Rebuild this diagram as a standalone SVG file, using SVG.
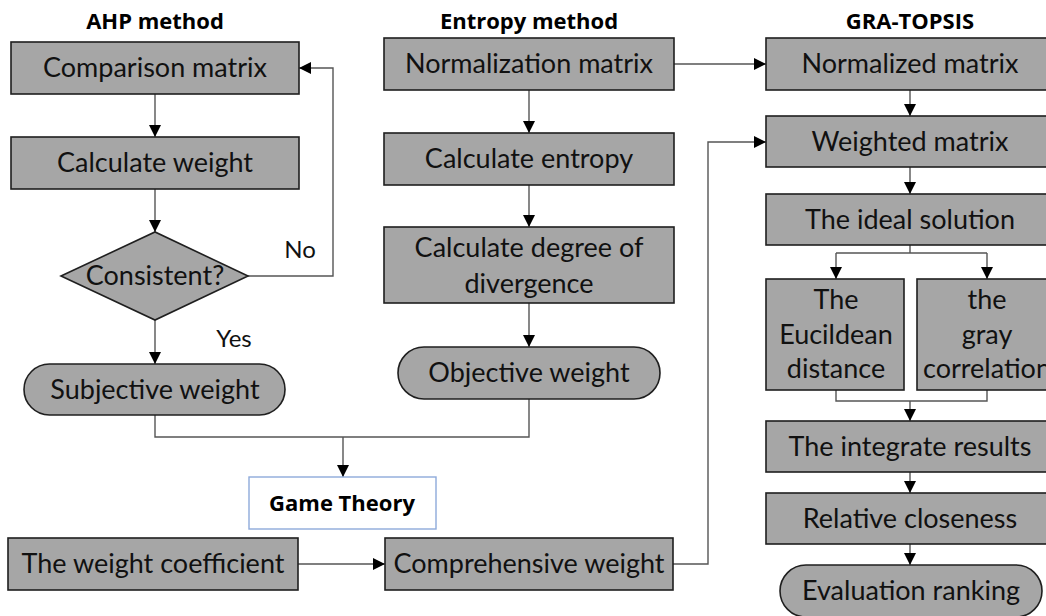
<svg xmlns="http://www.w3.org/2000/svg" width="1046" height="616" viewBox="0 0 1046 616">
<defs>
<marker id="ah" markerUnits="userSpaceOnUse" markerWidth="12" markerHeight="12" viewBox="0 0 12 12" refX="12" refY="6" orient="auto">
<path d="M0,0 L12,6 L0,12 Z" fill="#000"/>
</marker>
<style>
.box{fill:#a6a6a6;stroke:#1f1f1f;stroke-width:1.6}
.t{font-family:Lato,"Open Sans","Liberation Sans",sans-serif;font-size:27px;fill:#111;text-anchor:middle}
.h{font-family:"Open Sans",Lato,"Liberation Sans",sans-serif;font-size:22px;font-weight:bold;fill:#000;text-anchor:middle}
.c{fill:none;stroke:#555;stroke-width:1.4}
.a{marker-end:url(#ah)}
</style>
</defs>
<rect width="1046" height="616" fill="#fff"/>
<g id="titles">
<text class="h" x="155" y="29">AHP method</text>
<text class="h" x="529" y="29">Entropy method</text>
<text class="h" x="910" y="29">GRA-TOPSIS</text>
</g>
<g id="connectors">
<path class="c a" d="M155,94 V137"/>
<path class="c a" d="M155,189 V232"/>
<path class="c a" d="M248,276 H333 V68 H299"/>
<path class="c a" d="M155,320 V364"/>
<path class="c" d="M155,415 V437 H529 V399"/>
<path class="c a" d="M343,437 V477"/>
<path class="c a" d="M529,90 V133"/>
<path class="c a" d="M529,185 V227"/>
<path class="c a" d="M529,303 V347"/>
<path class="c a" d="M674,64 H766"/>
<path class="c a" d="M910,90 V116"/>
<path class="c a" d="M910,167 V194"/>
<path class="c" d="M910,245 V253 M836,253 H987"/>
<path class="c a" d="M836,253 V279"/>
<path class="c a" d="M987,253 V279"/>
<path class="c" d="M836,390 V401 H987 V390"/>
<path class="c a" d="M910,401 V421"/>
<path class="c a" d="M910,472 V493"/>
<path class="c a" d="M910,544 V565"/>
<path class="c a" d="M298,564 H385"/>
<path class="c a" d="M673,564 H708 V142 H766"/>
<text class="t" x="300" y="258" style="font-size:24px">No</text>
<text class="t" x="234" y="347" style="font-size:24px">Yes</text>
</g>
<g id="comparison"><rect class="box" x="11" y="42" width="288" height="52"/><text class="t" x="155" y="77">Comparison matrix</text></g>
<g id="calcweight"><rect class="box" x="11" y="137" width="288" height="52"/><text class="t" x="155" y="172">Calculate weight</text></g>
<g id="consistent"><polygon class="box" points="61,276 155,232 248,276 155,320"/><text class="t" x="155" y="285">Consistent?</text></g>
<g id="subjective"><rect class="box" x="24" y="364" width="261" height="51" rx="25.5"/><text class="t" x="155" y="399">Subjective weight</text></g>
<g id="normalization"><rect class="box" x="384" y="38" width="290" height="52"/><text class="t" x="529" y="73">Normalization matrix</text></g>
<g id="entropy"><rect class="box" x="384" y="133" width="290" height="52"/><text class="t" x="529" y="168">Calculate entropy</text></g>
<g id="divergence"><rect class="box" x="384" y="227" width="290" height="76"/><text class="t" x="529" y="257">Calculate degree of</text><text class="t" x="529" y="293">divergence</text></g>
<g id="objective"><rect class="box" x="398" y="347" width="262" height="52" rx="26"/><text class="t" x="529" y="382">Objective weight</text></g>
<g id="gametheory"><rect x="249" y="477" width="187" height="52" fill="#fff" stroke="#8eaadb" stroke-width="1.4"/><text class="h" x="342" y="511">Game Theory</text></g>
<g id="coefficient"><rect class="box" x="8" y="538" width="290" height="52"/><text class="t" x="153" y="573">The weight coefficient</text></g>
<g id="comprehensive"><rect class="box" x="385" y="538" width="288" height="52"/><text class="t" x="529" y="573">Comprehensive weight</text></g>
<g id="normalized"><rect class="box" x="766" y="38" width="288" height="52"/><text class="t" x="910" y="73">Normalized matrix</text></g>
<g id="weighted"><rect class="box" x="766" y="116" width="288" height="51"/><text class="t" x="910" y="151">Weighted matrix</text></g>
<g id="ideal"><rect class="box" x="766" y="194" width="288" height="51"/><text class="t" x="910" y="229">The ideal solution</text></g>
<g id="euclidean"><rect class="box" x="766" y="279" width="138" height="111"/><text class="t" x="836" y="309">The</text><text class="t" x="836" y="344">Eucildean</text><text class="t" x="836" y="378">distance</text></g>
<g id="gray"><rect class="box" x="917" y="279" width="138" height="111"/><text class="t" x="987" y="309">the</text><text class="t" x="987" y="344">gray</text><text class="t" x="987" y="378">correlation</text></g>
<g id="integrate"><rect class="box" x="766" y="421" width="288" height="51"/><text class="t" x="910" y="456">The integrate results</text></g>
<g id="closeness"><rect class="box" x="766" y="493" width="288" height="51"/><text class="t" x="910" y="528">Relative closeness</text></g>
<g id="ranking"><rect class="box" x="780" y="565" width="262" height="52" rx="26"/><text class="t" x="911" y="600">Evaluation ranking</text></g>
</svg>
